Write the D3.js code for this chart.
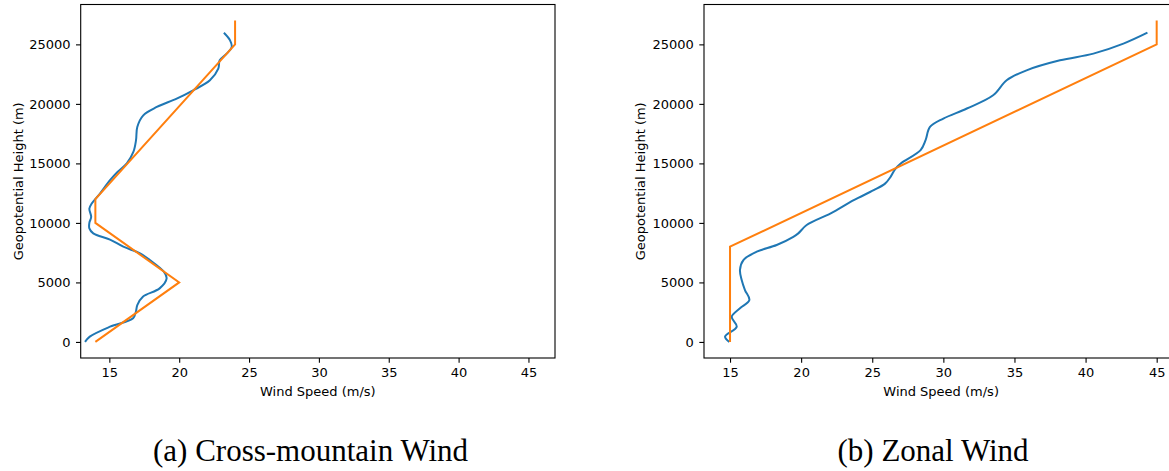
<!DOCTYPE html>
<html>
<head>
<meta charset="utf-8">
<script src="https://cdn.jsdelivr.net/npm/d3@7"></script>
<style>
  body { margin: 0; background: #fff; }
  svg { display: block; }
</style>
</head>
<body>
<svg id="chart" width="1169" height="471"></svg>
<script>
// wind speed (m/s), height (m)
const cross_observed = [
    [13.26, 0], [13.6, 445], [15.05, 1280], [16.7, 1990], [16.9, 2540], [17.0, 3100],
    [17.4, 3800], [18.6, 4500], [19.1, 5340], [18.9, 5900], [17.9, 6880], [17.2, 7440],
    [16.0, 8000], [15.05, 8600], [13.85, 9120], [13.57, 9540], [13.57, 10010], [13.7, 10500],
    [13.57, 11200], [13.74, 11630], [14.33, 12470], [15.05, 13590], [15.6, 14300],
    [16.25, 15000], [16.72, 15960], [16.91, 16950], [17.0, 18060], [17.43, 19040],
    [18.4, 19740], [19.82, 20440], [21.0, 21140], [22.2, 21980], [22.8, 22960],
    [22.9, 23660], [23.4, 24220], [23.76, 24770], [23.64, 25340], [23.2, 25980]
]
const cross_idealized = [[14, 0], [20, 5000], [14, 10000], [14, 12000], [24, 25000], [24, 27000]]

const zonal_observed = [
    [14.95, 0], [14.65, 445], [15.47, 1280], [15.12, 2120], [15.7, 2830], [16.36, 3520],
    [16.05, 4360], [15.82, 5200], [15.7, 6040], [15.94, 6880], [16.88, 7580], [18.28, 8140],
    [19.45, 8830], [19.8, 9120], [20.39, 9820], [22.08, 10800], [23.7, 11910], [25.1, 12750],
    [25.9, 13300], [26.29, 13870], [26.6, 14500], [27.0, 14990], [28.4, 16110], [28.75, 16950],
    [29.06, 18060], [30.0, 18770], [31.65, 19610], [33.5, 20720], [34.45, 21980],
    [35.85, 22820], [38.2, 23660], [40.55, 24220], [42.66, 25060], [44.35, 25980]
]
const zonal_idealized = [[15, 0], [15, 8000], [45, 25000], [45, 27000]]

const x_ticks = [15, 20, 25, 30, 35, 40, 45]
const y_ticks = [0, 5000, 10000, 15000, 20000, 25000]
const captions = ["(a) Cross-mountain Wind", "(b) Zonal Wind"]

const blue = "#1f77b4"
const orange = "#ff7f0e"
const line_width = 2
const tick_size = 4.7
const font = "'DejaVu Sans', sans-serif"

const panels = [
    { left: 80.7, right: 555, x_domain: [12.95, 46.9], observed: cross_observed, idealized: cross_idealized, caption: captions[0], label_x: 18, caption_x: 310.5 },
    { left: 704, right: 1178.3, x_domain: [13.17, 46.52], observed: zonal_observed, idealized: zonal_idealized, caption: captions[1], label_x: 640, caption_x: 933 }
]
const top_y = 4.5
const bottom_y = 358

function draw_panel(svg, panel) {

    const x = d3.scaleLinear().domain(panel.x_domain).range([panel.left, panel.right])
    const y = d3.scaleLinear().domain([-1350, 28350]).range([bottom_y, top_y])

    const g = svg.append("g")

    g.append("path")
        .datum(panel.observed)
        .attr("d", d3.line().x(d => x(d[0])).y(d => y(d[1])).curve(d3.curveCatmullRom.alpha(0.5)))
        .attr("fill", "none")
        .attr("stroke", blue)
        .attr("stroke-width", line_width)

    g.append("path")
        .datum(panel.idealized)
        .attr("d", d3.line().x(d => x(d[0])).y(d => y(d[1])))
        .attr("fill", "none")
        .attr("stroke", orange)
        .attr("stroke-width", line_width)

    // frame
    g.append("rect")
        .attr("x", panel.left)
        .attr("y", top_y)
        .attr("width", panel.right - panel.left)
        .attr("height", bottom_y - top_y)
        .attr("fill", "none")
        .attr("stroke", "#000")
        .attr("stroke-width", 1.1)

    const x_axis = g.append("g")
        .attr("transform", `translate(0,${bottom_y})`)
        .call(d3.axisBottom(x).tickValues(x_ticks).tickSize(tick_size).tickPadding(4.7).tickSizeOuter(0))
    const y_axis = g.append("g")
        .attr("transform", `translate(${panel.left},0)`)
        .call(d3.axisLeft(y).tickValues(y_ticks).tickFormat(d3.format("d")).tickSize(tick_size).tickPadding(5.5).tickSizeOuter(0))

    for (const axis of [x_axis, y_axis]) {
        axis.select(".domain").remove()
        axis.selectAll("line").attr("stroke", "#000").attr("stroke-width", 1.1)
        axis.selectAll("text")
            .attr("fill", "#000")
            .style("font-family", font)
            .style("font-size", "13px")
    }

    g.append("text")
        .attr("x", (panel.left + panel.right) / 2)
        .attr("y", 396)
        .attr("text-anchor", "middle")
        .style("font-family", font)
        .style("font-size", "13px")
        .text("Wind Speed (m/s)")

    g.append("text")
        .attr("transform", `translate(${panel.label_x},${(top_y + bottom_y) / 2}) rotate(-90)`)
        .attr("text-anchor", "middle")
        .attr("dominant-baseline", "central")
        .style("font-family", font)
        .style("font-size", "13px")
        .text("Geopotential Height (m)")

    g.append("text")
        .attr("x", panel.caption_x)
        .attr("y", 461)
        .attr("text-anchor", "middle")
        .style("font-family", "'Liberation Serif', serif")
        .style("font-size", "31px")
        .text(panel.caption)
}

const svg = d3.select("#chart")
panels.forEach(panel => draw_panel(svg, panel))
</script>
</body>
</html>
